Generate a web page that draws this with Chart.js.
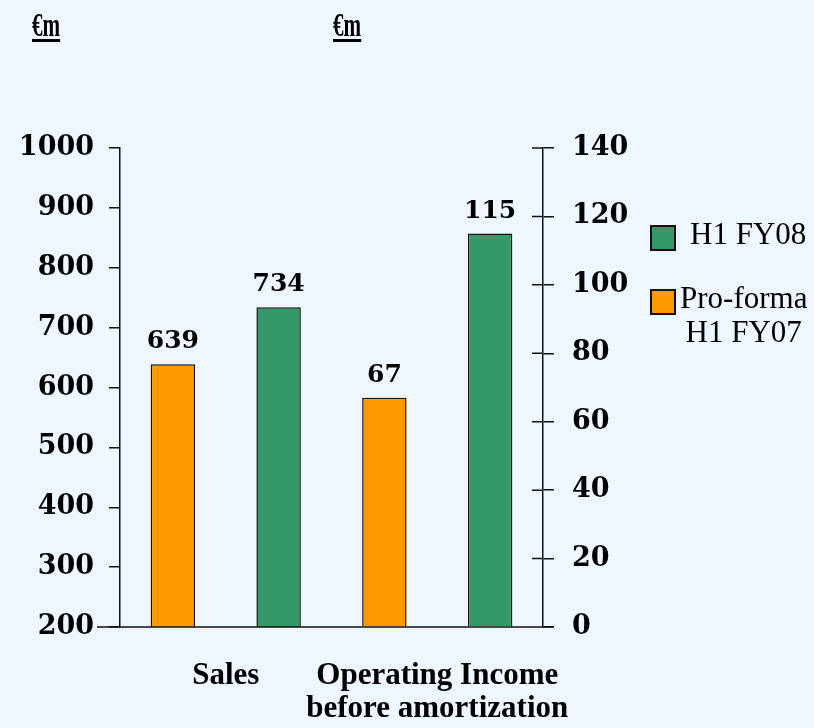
<!DOCTYPE html>
<html>
<head>
<meta charset="utf-8">
<script src="https://cdn.jsdelivr.net/npm/chart.js@4.4.0/dist/chart.umd.min.js"></script>
<style>
  body { margin: 0; background: #eef6ff; font-family: "Liberation Serif", "Times New Roman", serif; }
  #wrap { position: relative; width: 814px; height: 728px; }
  .unit { position: absolute; top: 9px; font-weight: bold; font-size: 33px; line-height: 33px;
          text-decoration: underline; text-decoration-thickness: 3px; text-underline-offset: 3px;
          transform: scaleX(0.64); transform-origin: left top; }
  #legend { position: absolute; left: 650px; top: 224px; font-size: 31px; color: #000; }
  .item { position: relative; height: 64px; }
  .swatch { position: absolute; left: 0; top: 1px; width: 22px; height: 22px; border: 2px solid #111; }
  .item span { position: absolute; left: 30px; top: -7px; text-align: center; line-height: 34px; white-space: nowrap; }
</style>
</head>
<body>
<div id="wrap">
  <canvas id="chart"></canvas>
  <div class="unit" style="left:32px">€m</div>
  <div class="unit" style="left:333px">€m</div>
  <div id="legend"></div>
</div>
<script>
// Chart data
const categories = ["Sales", ["Operating Income", "before amortization"]];
const seriesNames = ["Pro-forma\nH1 FY07", "H1 FY08"];
const seriesColors = ["#ff9900", "#339966"];
const salesValues = [639, 734];     // left axis
const incomeValues = [67, 115];     // right axis
const leftTicks = { min: 200, max: 1000, step: 100 };
const rightTicks = { min: 0, max: 140, step: 20 };

const serif = "'Liberation Serif', 'Times New Roman', serif";
const wideSerif = "'DejaVu Serif', serif";
Chart.defaults.font.family = serif;
Chart.defaults.color = "#000";

// one dataset per bar so each category can use its own axis
const datasets = [];
seriesNames.forEach((name, i) => {
  datasets.push({
    label: name,
    data: [salesValues[i], null],
    yAxisID: "yLeft",
    backgroundColor: seriesColors[i],
    borderColor: "#111",
    borderWidth: 1.5,
    skipNull: true,
  });
});
seriesNames.forEach((name, i) => {
  datasets.push({
    label: name,
    data: [null, incomeValues[i]],
    yAxisID: "yRight",
    backgroundColor: seriesColors[i],
    borderColor: "#111",
    borderWidth: 1.5,
    skipNull: true,
  });
});

// value labels above bars
const valueLabels = {
  id: "valueLabels",
  afterDatasetsDraw(chart) {
    const ctx = chart.ctx;
    ctx.save();
    ctx.font = "bold 25px " + wideSerif;
    ctx.fillStyle = "#000";
    ctx.textAlign = "center";
    ctx.textBaseline = "alphabetic";
    chart.data.datasets.forEach((ds, i) => {
      chart.getDatasetMeta(i).data.forEach((bar, j) => {
        if (ds.data[j] == null) return;
        ctx.fillText(ds.data[j], bar.x, bar.y - 16);
      });
    });
    ctx.restore();
  },
};

// baseline and inward ticks on the right axis
const axisExtras = {
  id: "axisExtras",
  afterDraw(chart) {
    const ctx = chart.ctx;
    const area = chart.chartArea;
    const right = chart.scales.yRight;
    ctx.save();
    ctx.strokeStyle = "#111";
    ctx.lineWidth = 1.5;
    ctx.beginPath();
    ctx.moveTo(area.left - 23, area.bottom);
    ctx.lineTo(area.right + 11, area.bottom);
    right.ticks.forEach((t, i) => {
      const y = right.getPixelForTick(i);
      ctx.moveTo(right.left - 11, y);
      ctx.lineTo(right.left, y);
    });
    ctx.stroke();
    ctx.restore();
  },
};

const tickFont = { family: wideSerif, size: 27, weight: "bold" };

new Chart(document.getElementById("chart"), {
  type: "bar",
  data: { labels: categories, datasets: datasets },
  options: {
    responsive: true,
    maintainAspectRatio: false,
    animation: false,
    layout: { padding: { top: 148, left: 0, right: 0, bottom: 0 } },
    datasets: { bar: { categoryPercentage: 1.0, barPercentage: 0.42 } },
    plugins: { legend: { display: false }, tooltip: { enabled: false } },
    scales: {
      x: {
        grid: { display: false, drawTicks: false },
        border: { display: false },
        ticks: { font: { size: 31, weight: "bold", lineHeight: 1.07 }, padding: 32, maxRotation: 0, autoSkip: false },
        afterFit: (s) => { s.height = 101; },
      },
      yLeft: {
        position: "left",
        min: leftTicks.min,
        max: leftTicks.max,
        ticks: { stepSize: leftTicks.step, font: tickFont, padding: 15, callback: (v) => String(v) },
        grid: { drawOnChartArea: false, tickLength: 11, color: "#111", lineWidth: 1.5 },
        border: { color: "#111", width: 1.5 },
        afterFit: (s) => { s.width = 120; },
      },
      yRight: {
        position: "right",
        min: rightTicks.min,
        max: rightTicks.max,
        ticks: { stepSize: rightTicks.step, font: tickFont, padding: 18, callback: (v) => String(v) },
        grid: { drawOnChartArea: false, tickLength: 11, color: "#111", lineWidth: 1.5 },
        border: { color: "#111", width: 1.5 },
        afterFit: (s) => { s.width = 271; },
      },
    },
  },
  plugins: [valueLabels, axisExtras],
});

// legend: H1 FY08 first
const legend = document.getElementById("legend");
[1, 0].forEach((i) => {
  const item = document.createElement("div");
  item.className = "item";
  const sw = document.createElement("div");
  sw.className = "swatch";
  sw.style.background = seriesColors[i];
  const txt = document.createElement("span");
  txt.innerHTML = seriesNames[i].replace("\n", "<br>");
  if (i === 1) txt.style.left = "40px";
  item.appendChild(sw);
  item.appendChild(txt);
  legend.appendChild(item);
});
</script>
</body>
</html>
